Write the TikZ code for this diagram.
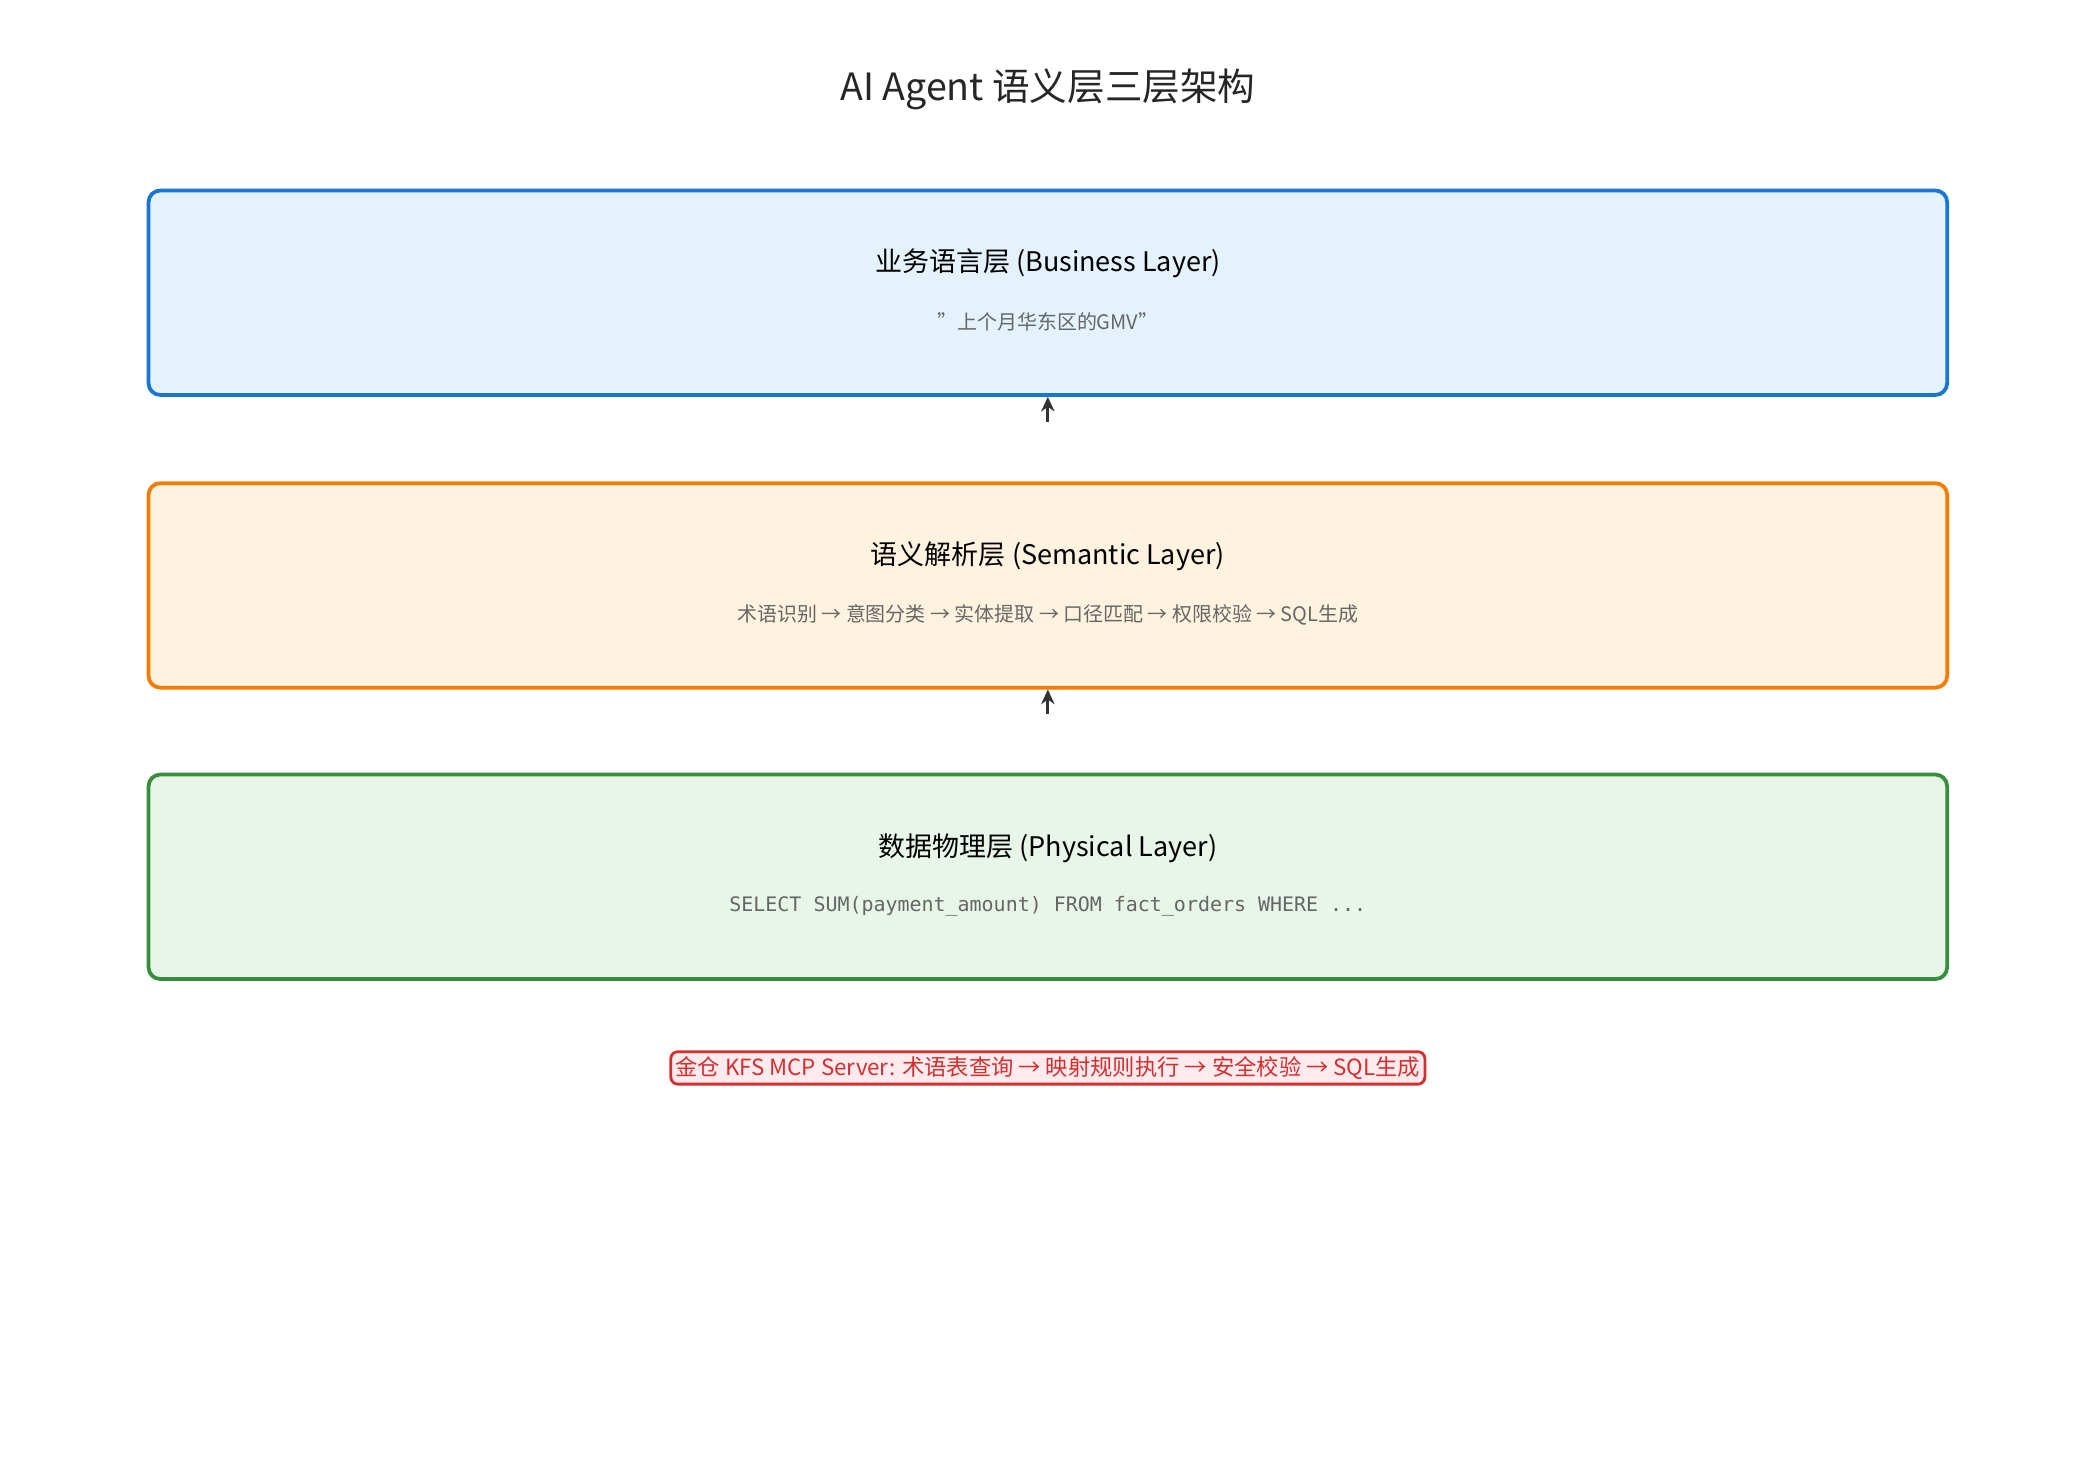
\documentclass[tikz,border=0pt]{standalone}
\usepackage{fontspec}
\setmainfont{Noto Sans CJK SC}
\newfontfamily\codefont{DejaVu Sans Mono}
\usepackage{xcolor}
\usetikzlibrary{arrows.meta, positioning}
\definecolor{bizline}{HTML}{1976D2}\definecolor{bizfill}{HTML}{E3F2FD}
\definecolor{semline}{HTML}{F57C00}\definecolor{semfill}{HTML}{FFF3E0}
\definecolor{phyline}{HTML}{388E3C}\definecolor{phyfill}{HTML}{E8F5E9}
\definecolor{kfsline}{HTML}{D32F2F}\definecolor{kfsfill}{HTML}{FFEBEE}
\definecolor{subgray}{HTML}{666666}
\definecolor{arrgray}{HTML}{333333}

\begin{document}
\begin{tikzpicture}[x=0.02cm, y=-0.02cm,
  layer/.style={draw, line width=1.6pt, rounded corners=5pt, minimum width=26.92cm, minimum height=3.06cm},
  head/.style={font=\fontsize{11.5}{13}\selectfont},
  sub/.style={font=\fontsize{8.5}{10}\selectfont, text=subgray},
  arrow/.style={-{Stealth[length=2.2mm, width=2mm]}, line width=1.4pt, arrgray},
]
\useasboundingbox (0,0) rectangle (1560,1110);

% --- Title
\node[font=\fontsize{16}{18}\selectfont, text=black!85] (title) at (784,67) {AI Agent 语义层三层架构};

% --- Layers
\node[layer, draw=bizline, fill=bizfill] (biz) at (784,219) {};
\node[layer, draw=semline, fill=semfill] (sem) at (784,438) {};
\node[layer, draw=phyline, fill=phyfill] (phy) at (784,656) {};

\node[head] (bizhead) at (784,197) {业务语言层 (Business Layer)};
\node[sub]  (bizsub)  at (784,241) {"上个月华东区的GMV"};
\node[head] (semhead) at (784,416) {语义解析层 (Semantic Layer)};
\node[sub]  (semsub)  at (784,460) {术语识别 → 意图分类 → 实体提取 → 口径匹配 → 权限校验 → SQL生成};
\node[head] (phyhead) at (784,635) {数据物理层 (Physical Layer)};
\node[sub, font=\codefont\fontsize{8.5}{10}\selectfont] (physub) at (784,678)
  {SELECT SUM(payment\_amount) FROM fact\_orders WHERE ...};

% --- Arrows
\coordinate (a1) at (784,316);
\coordinate (a2) at (784,534);
\draw[arrow] (a1) -- (biz.south);
\draw[arrow] (a2) -- (sem.south);

% --- MCP server note
\node[draw=kfsline, fill=kfsfill, text=kfsline, line width=1.2pt, rounded corners=3pt,
  inner sep=2pt, font=\fontsize{9.5}{11}\selectfont] (kfs) at (784,799)
  {金仓 KFS MCP Server: 术语表查询 → 映射规则执行 → 安全校验 → SQL生成};
\end{tikzpicture}
\end{document}
